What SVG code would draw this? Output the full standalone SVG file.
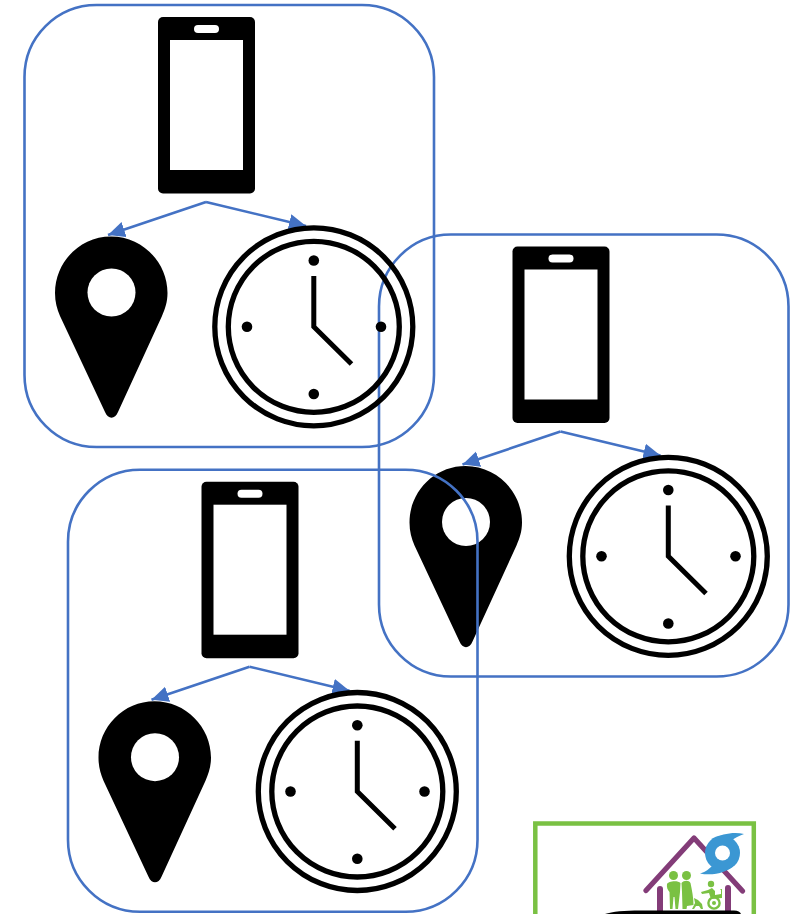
<svg xmlns="http://www.w3.org/2000/svg" width="794" height="914" viewBox="0 0 794 914">
<style>
.frame{fill:none;stroke:#4472c4;stroke-width:2.600}
.conn{fill:none;stroke:#4472c4;stroke-width:2.600}
.ring{fill:none;stroke:#000;stroke-width:5.300}
.hand{fill:none;stroke:#000;stroke-width:5}
.purple{fill:none;stroke:#833c78;stroke-linecap:round}
.grn{fill:#7ac143}
</style>
<defs>
<marker id="ah" markerUnits="userSpaceOnUse" markerWidth="19" markerHeight="17" refX="17" refY="8" orient="auto">
<path d="M0 0L17 8L0 16Z" fill="#4472c4"/>
</marker>
<g id="phone">
<rect x="158" y="17" width="97" height="176.500" rx="5" fill="#000"/>
<rect x="170" y="40" width="73" height="130" fill="#fff"/>
<rect x="194" y="25" width="25" height="8" rx="4" fill="#fff"/>
</g>
<g id="pin">
<path d="M111 236.500C142 236.500 167.500 262 167.500 293C167.500 302 165 309 162 316L118 412C115 419.500 108 419.500 105 412L60 316C57 309 55 302 55 293C55 262 80 236.500 111 236.500Z" fill="#000"/>
<circle cx="111.500" cy="292.500" r="24" fill="#fff"/>
</g>
<g id="clock">
<circle class="ring" cx="313.800" cy="326.800" r="99"/>
<circle class="ring" cx="313.800" cy="326.800" r="85.500"/>
<circle cx="313.800" cy="260.500" r="5.300"/><circle cx="247" cy="326.800" r="5.300"/><circle cx="381" cy="326.800" r="5.300"/><circle cx="313.800" cy="394" r="5.300"/>
<path class="hand" d="M313.800 276V326.800L351.500 364"/>
</g>
<g id="links">
<path class="conn" d="M206 202L108 235" marker-end="url(#ah)"/>
<path class="conn" d="M206 202L306 226" marker-end="url(#ah)"/>
</g>
</defs>
<rect width="794" height="914" fill="#fff"/>
<g id="frame-2"><rect class="frame" x="379" y="234.500" width="409.500" height="442" rx="72"/></g>
<g id="frame-1"><rect class="frame" x="24.500" y="5" width="409.500" height="442" rx="72"/></g>
<g id="connectors">
<use href="#links"/>
<use href="#links" transform="translate(354.500 229.500)"/>
<use href="#links" transform="translate(43.500 464.700)"/>
</g>
<g id="node-phone-1"><use href="#phone"/></g>
<g id="node-pin-1"><use href="#pin"/></g>
<g id="node-clock-1"><use href="#clock"/></g>
<g id="node-phone-2" transform="translate(354.500 229.500)"><use href="#phone"/></g>
<g id="node-pin-2" transform="translate(354.500 229.500)"><use href="#pin"/></g>
<g id="node-clock-2" transform="translate(354.500 229.500)"><use href="#clock"/></g>
<g id="frame-3"><rect class="frame" x="68" y="469.700" width="409.500" height="442" rx="72"/></g>
<g id="node-phone-3" transform="translate(43.500 464.700)"><use href="#phone"/></g>
<g id="node-pin-3" transform="translate(43.500 464.700)"><use href="#pin"/></g>
<g id="node-clock-3" transform="translate(43.500 464.700)"><use href="#clock"/></g>
<g id="node-logo">
<rect x="535.300" y="823.500" width="218.500" height="110" fill="none" stroke="#7ac143" stroke-width="4.500"/>
<path class="purple" stroke-width="5.200" stroke-linejoin="round" d="M646 890.500L694 838L742.500 891"/>
<path class="purple" stroke-width="6" d="M660 889V916M728 888V916"/>
<path fill="#3b97d3" d="M744 834C735 832 722 833 712 840L730 842C734 838 739 836 744 834Z"/>
<path fill="#3b97d3" d="M700 873.500C706 872 710 868 712 866L735 864C728 873 712 876 700 873.500Z"/>
<circle cx="722.500" cy="853" r="17.500" fill="#3b97d3"/>
<circle cx="722.500" cy="853" r="7.500" fill="#fff"/>
<circle class="grn" cx="673.500" cy="875.500" r="4.500"/>
<circle class="grn" cx="686.500" cy="875.500" r="4.500"/>
<path class="grn" d="M667 884C668 881 678 880 680.500 883L680 892L678 909H675.500L674.500 897H673.500L672.500 909H670L669.500 892C667.500 890 666.500 887 667 884Z"/>
<path class="grn" d="M681.500 883C684 880 689 880 690.500 883C692 890 693.500 898 693.500 905L687 906L686.500 909H682.500L682 892Z"/>
<path class="grn" d="M692 909L695 903L694 898L698 900L702 904L703 909H701L699 906H696L694 909Z"/>
<circle class="grn" cx="711" cy="884" r="3.200"/>
<path class="grn" d="M701 892L708 890L712 888L715 891L715 895L721 894V890L720 889H722V898L711 899L709 893L702 894Z"/>
<circle cx="714" cy="903" r="5.600" fill="none" stroke="#7ac143" stroke-width="2.400"/>
<circle class="grn" cx="714" cy="903" r="2"/>
<path fill="#000" d="M605 914C612 911.500 625 910.500 640 910.500H734C738 910.500 740 912 741 914Z"/>
</g>
</svg>
